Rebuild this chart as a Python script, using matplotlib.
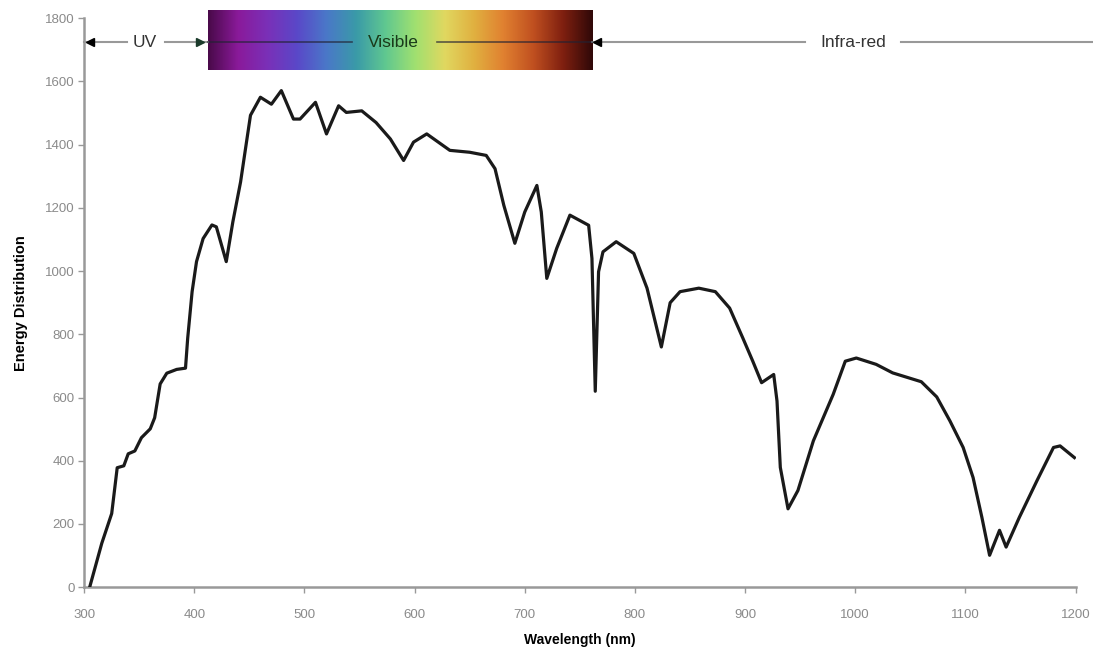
import matplotlib.pyplot as plt
import numpy as np
from matplotlib.colors import LinearSegmentedColormap

plt.rcParams['font.family'] = ['Liberation Sans', 'DejaVu Sans']

# solar spectrum
wavelength = [305, 316, 325, 330, 336, 340, 346, 352, 360, 364,
              369, 375, 384, 392, 394, 398, 402, 408, 416, 420,
              429, 435, 442, 446, 451, 460, 470, 479, 490, 496,
              510, 520, 531, 538, 552, 565, 578, 590, 599, 611,
              632, 650, 665, 673, 681, 691, 700, 711, 715, 720,
              729, 741, 758, 761, 764, 767, 771, 783, 799, 811,
              824, 832, 841, 858, 873, 886, 898, 907, 915, 926,
              929, 932, 939, 948, 962, 980, 991, 1001, 1019, 1034,
              1060, 1074, 1086, 1098, 1107, 1115, 1122, 1131, 1137, 1149,
              1165, 1180, 1186, 1199]
energy = [0, 139, 233, 378, 384, 422, 431, 473, 501, 536,
          643, 677, 689, 693, 788, 935, 1030, 1103, 1146, 1140,
          1030, 1156, 1282, 1376, 1493, 1550, 1528, 1571, 1481, 1481,
          1534, 1434, 1523, 1502, 1507, 1470, 1418, 1350, 1408, 1434,
          1382, 1376, 1366, 1324, 1208, 1088, 1187, 1271, 1187, 977,
          1072, 1177, 1145, 1040, 620, 998, 1061, 1093, 1056, 946,
          760, 900, 935, 946, 935, 883, 788, 715, 647, 673,
          589, 379, 248, 306, 463, 610, 715, 725, 705, 678,
          650, 602, 526, 442, 347, 221, 101, 180, 127, 221,
          337, 442, 447, 410]

x_ticks = [300, 400, 500, 600, 700, 800, 900, 1000, 1100, 1200]
y_ticks = [0, 200, 400, 600, 800, 1000, 1200, 1400, 1600, 1800]

# region labels: (text, x centre)
regions = [("UV", 355), ("Visible", 581), ("Infra-red", 998)]
band_x = (412, 761)
uv_x = (305, 405)
ir_start = 766

spectrum = ['#4a0a4a', '#8a1a9a', '#7a30b8', '#5a48c8', '#4a78c8', '#3a9aa8',
            '#60c890', '#a0e070', '#e0d860', '#e0b040', '#e08030', '#c05020',
            '#802010', '#300808']

fig = plt.figure(figsize=(10.93, 6.51), dpi=100)
ax = fig.add_axes([0.077, 0.098, 0.907, 0.874])

ax.plot(wavelength, energy, color='#1a1a1a', lw=2.3, solid_joinstyle='round', zorder=3)

ax.set_xlim(300, 1200)
ax.set_ylim(0, 1800)
ax.set_xticks(x_ticks)
ax.set_yticks(y_ticks)
for s in ['top', 'right']:
    ax.spines[s].set_visible(False)
for s in ['left', 'bottom']:
    ax.spines[s].set_color('#999999')
    ax.spines[s].set_linewidth(1.8)
ax.tick_params(axis='both', colors='#999999', labelcolor='#8a8a8a', labelsize=9.5, length=4, width=1)
ax.tick_params(axis='x', pad=12)
ax.tick_params(axis='y', pad=3)
ax.set_xlabel("Wavelength (nm)", fontsize=10, fontweight='bold', labelpad=8)
ax.set_ylabel("Energy Distribution", fontsize=10.5, fontweight='bold', labelpad=12)

# colour band for the visible range
cmap = LinearSegmentedColormap.from_list('spec', spectrum)
grad = np.linspace(0, 1, 256).reshape(1, -1)
ax.imshow(grad, cmap=cmap, aspect='auto', extent=[band_x[0], band_x[1], 1636, 1825],
          clip_on=False, zorder=2)

# bracket line with gaps for the labels
yl = 1724
gray_parts = [(300, 339), (373, band_x[0]), (band_x[1], 954), (1042, 1216)]
dark_parts = [(band_x[0], 543), (620, band_x[1])]
for a, b in gray_parts:
    ax.plot([a, b], [yl, yl], color='#999999', lw=1.5, clip_on=False, zorder=4)
for a, b in dark_parts:
    ax.plot([a, b], [yl, yl], color='#222233', lw=1.2, alpha=0.7, clip_on=False, zorder=4)

ax.plot([uv_x[0]], [yl], marker='<', color='black', ms=6, clip_on=False, zorder=5)
ax.plot([uv_x[1]], [yl], marker='>', color='#1a3a2a', ms=6, clip_on=False, zorder=5)
ax.plot([ir_start], [yl], marker='<', color='black', ms=6, clip_on=False, zorder=5)

for txt, xc in regions:
    col = '#1a3a1a' if txt == "Visible" else '#333333'
    ax.text(xc, yl, txt, ha='center', va='center', fontsize=12.5, color=col, zorder=6)

fig.savefig('out.png', dpi=100)
